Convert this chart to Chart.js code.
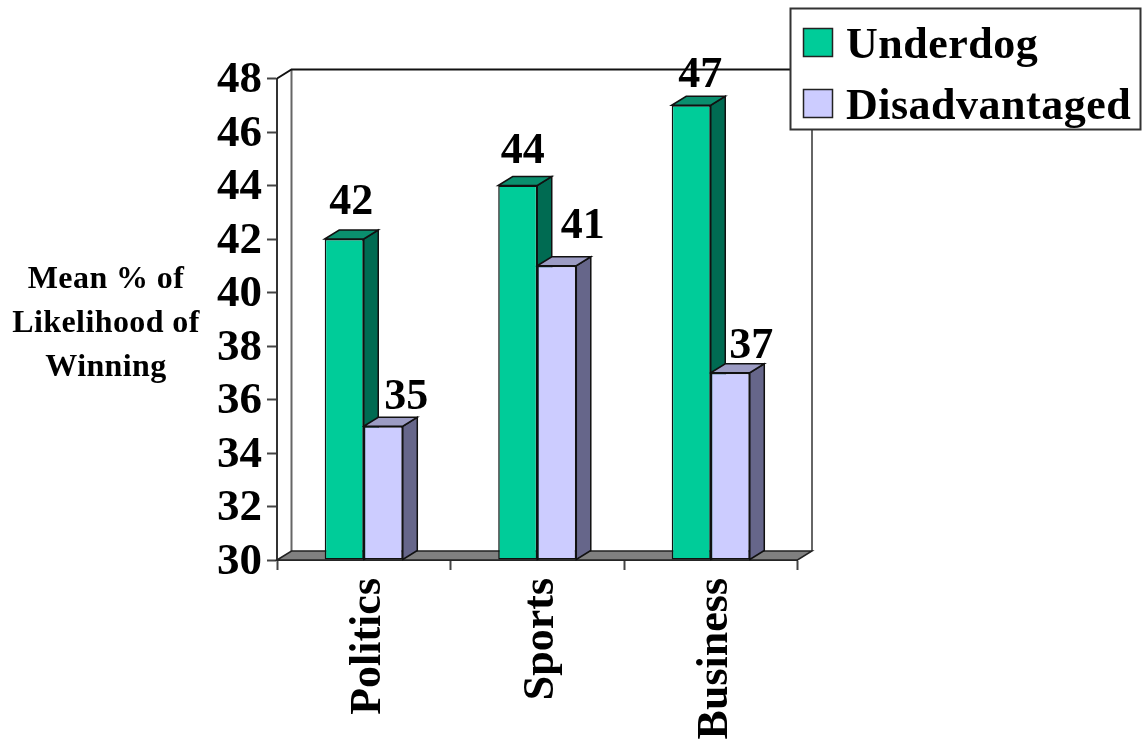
<!DOCTYPE html>
<html>
<head>
<meta charset="utf-8">
<title>Mean % of Likelihood of Winning</title>
<script src="https://cdn.jsdelivr.net/npm/chart.js@4/dist/chart.umd.min.js"></script>
<style>
  html, body { margin: 0; padding: 0; background: #fff; }
  canvas { display: block; }
</style>
</head>
<body>
<canvas id="grafico" width="1142" height="742"></canvas>
<script>
// Dados do gráfico
const categories = ['Politics', 'Sports', 'Business'];
const underdog = [42, 44, 47];
const disadvantaged = [35, 41, 37];
const axisTitle = ['Mean % of', 'Likelihood of', 'Winning'];

const SERIF = '"Liberation Serif", serif';
const DEPTH_X = 14.5;
const DEPTH_Y = 9;

// Cores: frente, lateral e topo de cada série
const faces = [
    { front: '#00CC99', side: '#006B52', top: '#0A8F6E' },
    { front: '#CCCCFF', side: '#66668A', top: '#9C9CC4' }
];

// Deslocamento de cada rótulo de valor em relação ao topo da barra
const labelShift = [
    [[7, -25], [5, -23], [9, -18]],
    [[23, -17], [26, -28], [21, -15]]
];

function poly(ctx, pts, fill, stroke, lw) {
    ctx.beginPath();
    pts.forEach((p, i) => i ? ctx.lineTo(p[0], p[1]) : ctx.moveTo(p[0], p[1]));
    ctx.closePath();
    ctx.fillStyle = fill;
    ctx.fill();
    ctx.strokeStyle = stroke;
    ctx.lineWidth = lw;
    ctx.stroke();
}

// Parede do fundo e piso, atrás das barras
const wallPlugin = {
    id: 'wall',
    beforeDatasetsDraw(chart) {
        const { ctx, chartArea: a } = chart;
        ctx.save();
        // parede
        ctx.strokeStyle = '#666';
        ctx.lineWidth = 2;
        ctx.beginPath();
        ctx.moveTo(a.left + DEPTH_X, a.bottom - DEPTH_Y);
        ctx.lineTo(a.left + DEPTH_X, a.top - DEPTH_Y);
        ctx.moveTo(a.right + DEPTH_X, a.top - DEPTH_Y);
        ctx.lineTo(a.right + DEPTH_X, a.bottom - DEPTH_Y);
        ctx.stroke();
        ctx.strokeStyle = '#111';
        ctx.beginPath();
        ctx.moveTo(a.left, a.top);
        ctx.lineTo(a.left + DEPTH_X, a.top - DEPTH_Y);
        ctx.lineTo(a.right + DEPTH_X, a.top - DEPTH_Y);
        ctx.stroke();
        // piso
        poly(ctx, [
            [a.left, a.bottom],
            [a.left + DEPTH_X, a.bottom - DEPTH_Y],
            [a.right + DEPTH_X, a.bottom - DEPTH_Y],
            [a.right, a.bottom]
        ], '#808080', '#222', 1.5);
        // lateral e topo das barras
        chart.data.datasets.forEach((ds, d) => {
            chart.getDatasetMeta(d).data.forEach(bar => {
                const l = bar.x - bar.width / 2;
                const r = bar.x + bar.width / 2;
                poly(ctx, [
                    [r, bar.base], [r + DEPTH_X, bar.base - DEPTH_Y],
                    [r + DEPTH_X, bar.y - DEPTH_Y], [r, bar.y]
                ], faces[d].side, '#111', 1.5);
                poly(ctx, [
                    [l, bar.y], [l + DEPTH_X, bar.y - DEPTH_Y],
                    [r + DEPTH_X, bar.y - DEPTH_Y], [r, bar.y]
                ], faces[d].top, '#111', 1.5);
            });
        });
        ctx.restore();
    }
};

// Rótulos de valor, categorias giradas, título do eixo e legenda
const textPlugin = {
    id: 'texts',
    afterDraw(chart) {
        const { ctx, scales } = chart;
        ctx.save();
        ctx.fillStyle = '#000';

        // valores
        ctx.font = 'bold 44px ' + SERIF;
        ctx.textAlign = 'center';
        ctx.textBaseline = 'alphabetic';
        chart.data.datasets.forEach((ds, d) => {
            chart.getDatasetMeta(d).data.forEach((bar, i) => {
                const s = labelShift[d][i];
                ctx.fillText(String(ds.data[i]), bar.x + s[0], bar.y + s[1]);
            });
        });

        // categorias, lidas de baixo para cima
        ctx.font = 'bold 44px ' + SERIF;
        ctx.textAlign = 'right';
        categories.forEach((c, i) => {
            ctx.save();
            ctx.translate(scales.x.getPixelForValue(i) + 16, 578);
            ctx.rotate(-Math.PI / 2);
            ctx.fillText(c, 0, 0);
            ctx.restore();
        });

        // título do eixo y
        ctx.font = 'bold 32px ' + SERIF;
        ctx.letterSpacing = '0.4px';
        ctx.textAlign = 'center';
        axisTitle.forEach((t, i) => ctx.fillText(t, 106, 288 + i * 44));

        // legenda
        ctx.fillStyle = '#fff';
        ctx.strokeStyle = '#333';
        ctx.lineWidth = 2;
        ctx.fillRect(790.5, 8.5, 350, 121);
        ctx.strokeRect(790.5, 8.5, 350, 121);
        ctx.textAlign = 'left';
        ctx.font = 'bold 44px ' + SERIF;
        ctx.letterSpacing = '0.5px';
        chart.data.datasets.forEach((ds, d) => {
            const y = 28.5 + d * 61;
            ctx.fillStyle = faces[d].front;
            ctx.strokeStyle = '#222';
            ctx.lineWidth = 1.5;
            ctx.fillRect(803.5, y, 29, 28);
            ctx.strokeRect(803.5, y, 29, 28);
            ctx.fillStyle = '#000';
            ctx.fillText(ds.label, 846, y + 29);
        });
        ctx.restore();
    }
};

new Chart(document.getElementById('grafico').getContext('2d'), {
    type: 'bar',
    data: {
        labels: categories,
        datasets: [
            { label: 'Underdog', data: underdog, backgroundColor: faces[0].front },
            { label: 'Disadvantaged', data: disadvantaged, backgroundColor: faces[1].front }
        ]
    },
    options: {
        responsive: false,
        animation: false,
        base: 30,
        barPercentage: 1,
        categoryPercentage: 0.45,
        borderColor: '#111',
        borderWidth: 1.5,
        borderSkipped: false,
        layout: { padding: { top: 78.5, right: 344.5, left: 0, bottom: 0 } },
        plugins: { legend: { display: false }, tooltip: { enabled: false } },
        scales: {
            x: {
                afterFit(scale) { scale.height = 182; },
                ticks: { display: false },
                border: { color: '#333', width: 2 },
                grid: { drawOnChartArea: false, tickLength: 10, tickColor: '#444', tickWidth: 2 }
            },
            y: {
                min: 30,
                max: 48,
                afterFit(scale) { scale.width = 277; },
                ticks: {
                    stepSize: 2,
                    autoSkip: false,
                    padding: 5,
                    labelOffset: 2,
                    color: '#000',
                    font: { family: SERIF, size: 45, weight: 'bold' }
                },
                border: { color: '#333', width: 2 },
                grid: { drawOnChartArea: false, tickLength: 10, tickColor: '#444', tickWidth: 2 }
            }
        }
    },
    plugins: [wallPlugin, textPlugin]
});
</script>
</body>
</html>
